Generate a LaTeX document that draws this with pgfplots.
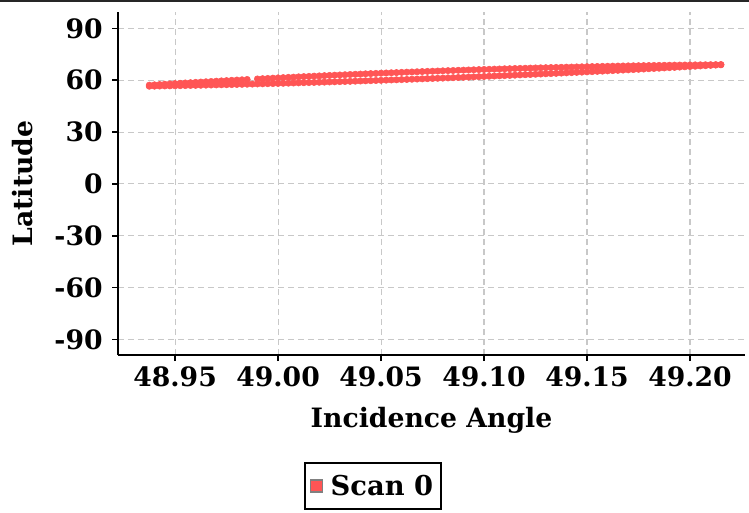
\documentclass[border=0pt]{standalone}
\usepackage{fontspec}
\setmainfont{DejaVu Serif}
\usepackage{pgfplots}
\pgfplotsset{compat=1.18}
\usepackage{pgfplotstable}

\definecolor{scanred}{RGB}{255,85,85}
\definecolor{gridgray}{RGB}{200,200,200}

% upper row of the scan (incidence angle, latitude)
\pgfplotstableread{
x y
48.9375 57.16
48.9400 57.35
48.9425 57.53
48.9450 57.71
48.9475 57.89
48.9500 58.07
48.9525 58.25
48.9550 58.43
48.9575 58.60
48.9600 58.78
48.9625 58.95
48.9650 59.12
48.9675 59.29
48.9700 59.46
48.9725 59.63
48.9750 59.79
48.9775 59.96
48.9800 60.12
48.9825 60.28
48.9850 60.44
48.9900 60.75
48.9925 60.91
48.9950 61.06
48.9975 61.22
49.0000 61.37
49.0025 61.52
49.0050 61.67
49.0075 61.81
49.0100 61.96
49.0125 62.10
49.0150 62.24
49.0175 62.39
49.0200 62.53
49.0225 62.66
49.0250 62.80
49.0275 62.94
49.0300 63.07
49.0325 63.20
49.0350 63.34
49.0375 63.47
49.0400 63.59
49.0425 63.72
49.0450 63.85
49.0475 63.97
49.0500 64.09
49.0525 64.22
49.0550 64.34
49.0575 64.45
49.0600 64.57
49.0625 64.69
49.0650 64.80
49.0675 64.91
49.0700 65.03
49.0725 65.14
49.0750 65.24
49.0775 65.35
49.0800 65.46
49.0825 65.56
49.0850 65.66
49.0875 65.77
49.0900 65.87
49.0925 65.96
49.0950 66.06
49.0975 66.16
49.1000 66.25
49.1025 66.35
49.1050 66.44
49.1075 66.53
49.1100 66.62
49.1125 66.70
49.1150 66.79
49.1175 66.87
49.1200 66.96
49.1225 67.04
49.1250 67.12
49.1275 67.20
49.1300 67.27
49.1325 67.35
49.1350 67.43
49.1375 67.50
49.1400 67.57
49.1425 67.64
49.1450 67.71
49.1475 67.78
49.1500 67.84
49.1525 67.91
49.1550 67.97
49.1575 68.03
49.1600 68.09
49.1625 68.15
49.1650 68.21
49.1675 68.27
49.1700 68.32
49.1725 68.37
49.1750 68.42
49.1775 68.48
49.1800 68.52
49.1825 68.57
49.1850 68.62
49.1875 68.66
49.1900 68.71
49.1925 68.75
49.1950 68.79
49.1975 68.83
49.2000 68.86
49.2025 68.90
49.2050 68.94
49.2075 68.97
49.2100 69.00
49.2125 69.03
49.2150 69.06
}\upperrow

% lower row of the scan
\pgfplotstableread{
x y
48.9375 56.55
48.9400 56.60
48.9425 56.66
48.9450 56.71
48.9475 56.77
48.9500 56.82
48.9525 56.88
48.9550 56.94
48.9575 57.00
48.9600 57.06
48.9625 57.12
48.9650 57.19
48.9675 57.25
48.9700 57.32
48.9725 57.38
48.9750 57.45
48.9775 57.52
48.9800 57.59
48.9825 57.66
48.9850 57.73
48.9875 57.80
48.9900 57.88
48.9925 57.95
48.9950 58.03
48.9975 58.11
49.0000 58.18
49.0025 58.26
49.0050 58.34
49.0075 58.43
49.0100 58.51
49.0125 58.59
49.0150 58.68
49.0175 58.76
49.0200 58.85
49.0225 58.94
49.0250 59.03
49.0275 59.12
49.0300 59.21
49.0325 59.30
49.0350 59.39
49.0375 59.49
49.0400 59.58
49.0425 59.68
49.0450 59.78
49.0475 59.88
49.0500 59.98
49.0525 60.08
49.0550 60.18
49.0575 60.28
49.0600 60.39
49.0625 60.49
49.0650 60.60
49.0675 60.71
49.0700 60.82
49.0725 60.93
49.0750 61.04
49.0775 61.15
49.0800 61.26
49.0825 61.38
49.0850 61.49
49.0875 61.61
49.0900 61.72
49.0925 61.84
49.0950 61.96
49.0975 62.08
49.1000 62.20
49.1025 62.33
49.1050 62.45
49.1075 62.58
49.1100 62.70
49.1125 62.83
49.1150 62.96
49.1175 63.09
49.1200 63.22
49.1225 63.35
49.1250 63.48
49.1275 63.61
49.1300 63.75
49.1325 63.88
49.1350 64.02
49.1375 64.16
49.1400 64.30
49.1425 64.44
49.1450 64.58
49.1475 64.72
49.1500 64.87
49.1525 65.01
49.1550 65.16
49.1575 65.30
49.1600 65.45
49.1625 65.60
49.1650 65.75
49.1675 65.90
49.1700 66.05
49.1725 66.20
49.1750 66.36
49.1775 66.51
49.1800 66.67
49.1825 66.83
49.1850 66.99
49.1875 67.15
49.1900 67.31
49.1925 67.47
49.1950 67.63
49.1975 67.80
49.2000 67.96
49.2025 68.13
49.2050 68.29
49.2075 68.46
49.2100 68.63
49.2125 68.80
49.2150 68.97
}\lowerrow

\begin{document}
\begin{tikzpicture}
% page = 749 x 512 px at 0.75pt per px, axis box lower-left at (0,0)
\useasboundingbox (-88.5pt,-117.75pt) rectangle (473.25pt,266.25pt);
\draw[line width=1.5pt, black!85] (-88.5pt,265.5pt) -- (473.25pt,265.5pt);
\begin{axis}[
    at={(0,0)}, anchor=south west,
    scale only axis,
    width=470.25pt, height=257.25pt,
    xmin=48.9223, xmax=49.2267,
    ymin=-99, ymax=99.5,
    axis x line*=bottom, axis y line*=left,
    axis line style={line width=1.5pt, -},
    xtick={48.95,49.00,49.05,49.10,49.15,49.20},
    ytick={-90,-60,-30,0,30,60,90},
    scaled x ticks=false,
    tick align=outside,
    major tick length=4.5pt,
    tick style={line width=1.2pt, black},
    xmajorgrids=true, ymajorgrids=true,
    major grid style={gridgray, line width=0.8pt, dash pattern=on 4.5pt off 3pt},
    /pgf/number format/assume math mode=true,
    xticklabel style={yshift=-1pt, /pgf/number format/.cd, fixed, fixed zerofill, precision=2},
    yticklabel style={xshift=-3.5pt},
    ticklabel style={font=\bfseries\fontsize{20}{22}\selectfont},
    label style={font=\bfseries\fontsize{20}{24}\selectfont},
    xlabel={Incidence Angle},
    ylabel={Latitude},
    xlabel style={at={(axis description cs:0.5,-0.1895)}, anchor=center},
    ylabel style={at={(axis description cs:-0.1515,0.5)}, anchor=center},
    legend style={at={(0.4067,-0.312)}, anchor=north, draw=black, line width=1.2pt,
        font=\bfseries\fontsize{20.5}{24}\selectfont, inner xsep=4pt, inner ysep=7pt},
    legend cell align=left,
]
\addplot[only marks, mark=*, mark size=2.4pt, color=scanred,
    legend image code/.code={%
        \draw[fill=scanred, draw=gray, line width=0.9pt] (0pt,-4.5pt) rectangle (9pt,4.5pt);
        \path[draw=none, fill=none] (9pt,0pt) -- (13pt,0pt);}]
    table[x=x, y=y] {\upperrow};
\addlegendentry{Scan 0}
\addplot[only marks, mark=*, mark size=2.4pt, color=scanred, forget plot]
    table[x=x, y=y] {\lowerrow};
\end{axis}
\end{tikzpicture}
\end{document}
